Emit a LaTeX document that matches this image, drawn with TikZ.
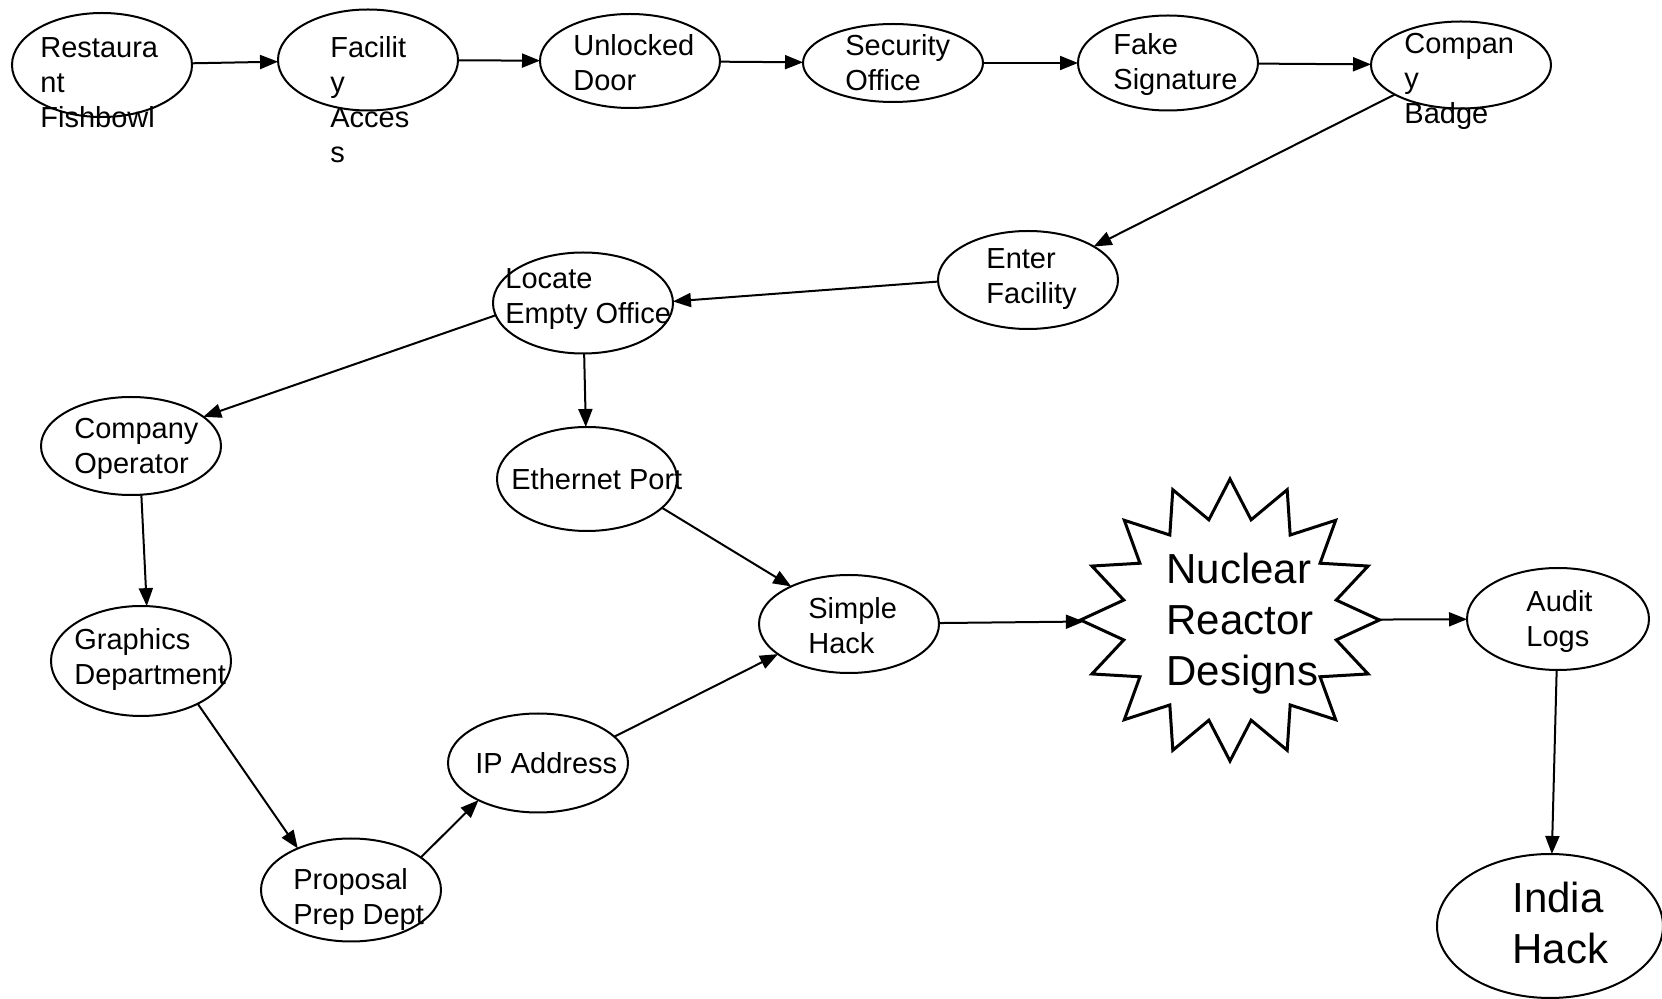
\documentclass[tikz,border=0pt]{standalone}
\usepackage{fontspec}
\setmainfont{Liberation Sans}
\usetikzlibrary{shapes.geometric,arrows.meta}

\begin{document}
\begin{tikzpicture}[x=0.5pt,y=-0.5pt,
	oval/.style={draw,ellipse,line width=1pt,inner sep=0,outer sep=0,minimum width=90pt},
	lbl/.style={anchor=north west,inner sep=0,align=left,font=\fontsize{14.5}{17.5}\selectfont},
	biglbl/.style={anchor=north west,inner sep=0,align=left,font=\fontsize{21}{25.5}\selectfont},
	link/.style={line width=1pt,-{Triangle[length=9pt,width=7pt]}}]
	\useasboundingbox (0,0) rectangle (1662,999);
	\node[oval,minimum height=52pt] (1) at (102,65) {};
	\node[oval,minimum height=50.5pt] (2) at (368,60) {};
	\node[oval,minimum height=47pt] (3) at (630,61) {};
	\node[oval,minimum height=39pt] (4) at (893,63) {};
	\node[oval,minimum height=47.5pt] (5) at (1168,63) {};
	\node[oval,minimum height=43.5pt] (6) at (1461,65) {};
	\node[oval,minimum height=49pt] (7) at (1028,280) {};
	\node[oval,minimum height=50.5pt] (8) at (583,303) {};
	\node[oval,minimum height=49pt] (9) at (131,446) {};
	\node[oval,minimum height=52pt] (10) at (587,479) {};
	\node[oval,minimum height=55pt] (11) at (141,661) {};
	\node[oval,minimum height=49pt] (12) at (849,624) {};
	\node[oval,minimum height=49.5pt] (13) at (538,763) {};
	\node[oval,minimum height=51.5pt] (14) at (351,890) {};
	\node[draw,star,star points=16,star point ratio=1.38,minimum size=141pt,inner sep=0,outer sep=0,line width=1.5pt,xscale=1.06] (15) at (1230,620) {};
	\node[oval,minimum width=91pt,minimum height=51pt] (16) at (1558,619) {};
	\node[oval,minimum width=113pt,minimum height=72pt] (17) at (1550,926) {};
	\node[lbl] (t1) at (40,37) {Restaura\\nt\\Fishbowl};
	\node[lbl] (t2) at (330,36) {Facilit\\y\\Acces\\s};
	\node[lbl] (t3) at (573,34) {Unlocked\\Door};
	\node[lbl] (t4) at (845,34) {Security\\Office};
	\node[lbl] (t5) at (1113,33) {Fake\\Signature};
	\node[lbl] (t6) at (1404,33) {Compan\\y\\Badge};
	\node[lbl] (t7) at (986,248) {Enter\\Facility};
	\node[lbl] (t8) at (505,268) {Locate\\Empty Office};
	\node[lbl] (t9) at (74,418) {Company\\Operator};
	\node[lbl] (t10) at (511,468) {Ethernet Port};
	\node[lbl] (t11) at (74,628) {Graphics\\Department};
	\node[lbl] (t12) at (808,597) {Simple\\Hack};
	\node[lbl] (t13) at (475,752) {IP Address};
	\node[lbl] (t14) at (293,868) {Proposal\\Prep Dept};
	\node[biglbl] (t15) at (1166,553) {Nuclear\\Reactor\\Designs};
	\node[lbl] (t16) at (1526,590) {Audit\\Logs};
	\node[biglbl] (t17) at (1512,882) {India\\Hack};
	\draw[link] (1) -- (2);
	\draw[link] (2) -- (3);
	\draw[link] (3) -- (4);
	\draw[link] (4) -- (5);
	\draw[link] (5) -- (6);
	\draw[link] (6.204) -- (7.27);
	\draw[link] (7.181) -- (8.1);
	\draw[link] (8.188) -- (9.22);
	\draw[link] (8) -- (10);
	\draw[link] (9.282) -- (11.84);
	\draw[link] (11.323) -- (14.142);
	\draw[link] (14.25) -- (13.212);
	\draw[link] (13.19) -- (12.203);
	\draw[link] (10.339) -- (12.147);
	\draw[link] (12) -- (15);
	\draw[link] (15) -- (16);
	\draw[link] (16) -- (17);
\end{tikzpicture}
\end{document}
